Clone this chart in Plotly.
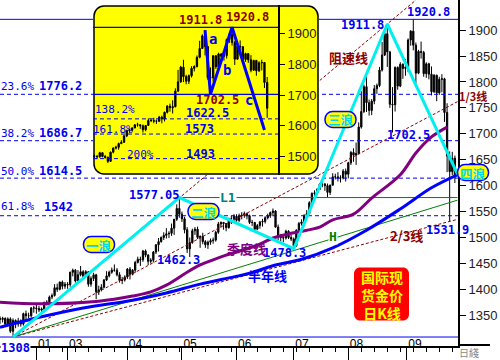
import numpy as np
import plotly.graph_objects as go

W, H = 500, 360

# ---------------- data (daily gold bars, index = trading day) ----------------
opens = [1344, 1342, 1344, 1333, 1343, 1319, 1340, 1333, 1339, 1333,
         1353, 1349, 1349, 1364, 1364, 1363, 1360, 1362, 1375, 1375,
         1385, 1388, 1403, 1400, 1414, 1406, 1410, 1409, 1433, 1437,
         1416, 1428, 1434, 1425, 1434, 1410, 1421, 1428, 1395, 1399,
         1404, 1418, 1426, 1433, 1437, 1437, 1428, 1417, 1418, 1424,
         1439, 1429, 1437, 1452, 1458, 1457, 1474, 1466, 1454, 1456,
         1472, 1486, 1492, 1500, 1504, 1507, 1508, 1518, 1535, 1556,
         1545, 1536, 1515, 1478, 1490, 1513, 1516, 1500, 1502, 1492,
         1486, 1491, 1494, 1495, 1510, 1526, 1529, 1527, 1519, 1536,
         1536, 1541, 1533, 1542, 1543, 1546, 1542, 1529, 1529, 1516,
         1523, 1530, 1531, 1538, 1542, 1548, 1551, 1520, 1502, 1500,
         1499, 1512, 1500, 1497, 1484, 1514, 1527, 1530, 1542, 1546,
         1567, 1585, 1586, 1593, 1603, 1603, 1600, 1587, 1601, 1617,
         1617, 1615, 1615, 1628, 1622, 1644, 1664, 1659, 1662, 1713,
         1743, 1791, 1760, 1745, 1763, 1787, 1793, 1823, 1852, 1893,
         1858, 1757, 1756, 1828, 1792, 1834, 1826, 1829, 1881, 1898,
         1871, 1817, 1859, 1857, 1816, 1835, 1815, 1781, 1813, 1779,
         1805, 1806, 1741, 1657, 1627, 1653]
highs = [1348, 1347, 1346, 1346, 1346, 1344, 1342, 1345, 1342, 1355,
         1359, 1355, 1366, 1368, 1371, 1368, 1365, 1376, 1379, 1388,
         1392, 1410, 1411, 1415, 1417, 1414, 1414, 1434, 1440, 1439,
         1437, 1445, 1437, 1437, 1435, 1425, 1432, 1430, 1407, 1410,
         1420, 1435, 1436, 1442, 1448, 1441, 1433, 1424, 1427, 1441,
         1443, 1439, 1455, 1463, 1463, 1476, 1477, 1468, 1460, 1474,
         1487, 1499, 1502, 1510, 1518, 1512, 1527, 1536, 1564, 1577.05,
         1550, 1540, 1520, 1500, 1517, 1520, 1521, 1504, 1509, 1495,
         1494, 1498, 1500, 1513, 1530, 1531, 1530, 1528, 1538, 1542,
         1545, 1545, 1546, 1549, 1550, 1548, 1544, 1534, 1530, 1526,
         1532, 1536, 1541, 1546, 1550, 1556, 1553, 1525, 1507, 1505,
         1515, 1514, 1505, 1500, 1516, 1530, 1535, 1545, 1553, 1570,
         1587, 1591, 1595, 1605, 1610, 1605, 1604, 1602, 1624, 1623,
         1626, 1620, 1632, 1633, 1646, 1667, 1672, 1683, 1722, 1782,
         1795, 1815, 1766, 1767, 1794, 1797, 1829, 1877, 1898, 1911.8,
         1860, 1790, 1830, 1830, 1838, 1836, 1844, 1884, 1900, 1920.8,
         1876, 1862, 1878, 1860, 1838, 1837, 1830, 1815, 1814, 1810,
         1815, 1808, 1759, 1666, 1665, 1658]
lows = [1333, 1336, 1330, 1329, 1316, 1308, 1325, 1328, 1328, 1330,
        1340, 1344, 1346, 1355, 1353, 1356, 1355, 1357, 1369, 1373,
        1381, 1386, 1395, 1398, 1400, 1401, 1401, 1405, 1425, 1413,
        1415, 1425, 1421, 1423, 1405, 1405, 1416, 1381, 1389, 1396,
        1402, 1416, 1423, 1430, 1434, 1425, 1413, 1410, 1415, 1420,
        1419, 1427, 1432, 1450, 1445, 1453, 1462, 1447, 1450, 1452,
        1468, 1473, 1490, 1495, 1498, 1499, 1503, 1505, 1532, 1538,
        1530, 1508, 1470, 1462.3, 1488, 1505, 1497, 1480, 1487, 1480,
        1478, 1486, 1488, 1492, 1507, 1519, 1515, 1512, 1517, 1526,
        1532, 1530, 1530, 1535, 1538, 1535, 1526, 1522, 1513, 1514,
        1517, 1521, 1527, 1535, 1538, 1541, 1519, 1495, 1492, 1491,
        1496, 1497, 1493, 1478.3, 1482, 1510, 1523, 1522, 1540, 1545,
        1563, 1576, 1582, 1592, 1597, 1590, 1578, 1582, 1600, 1612,
        1608, 1606, 1612, 1608, 1614, 1640, 1646, 1640, 1660, 1710,
        1740, 1742, 1735, 1736, 1757, 1777, 1790, 1820, 1850, 1829,
        1750, 1702.5, 1743, 1785, 1790, 1806, 1812, 1819, 1870, 1861,
        1798, 1815, 1845, 1810, 1808, 1805, 1774, 1779, 1763, 1775,
        1780, 1723, 1626, 1531.9, 1620, 1605]
closes = [1342, 1344, 1333, 1343, 1319, 1340, 1333, 1339, 1333, 1353,
          1349, 1349, 1364, 1364, 1363, 1360, 1362, 1375, 1375, 1385,
          1388, 1403, 1400, 1414, 1406, 1410, 1409, 1433, 1437, 1416,
          1428, 1434, 1425, 1434, 1410, 1421, 1428, 1395, 1399, 1404,
          1418, 1426, 1433, 1437, 1437, 1428, 1417, 1418, 1424, 1439,
          1429, 1437, 1452, 1458, 1457, 1474, 1466, 1454, 1456, 1472,
          1486, 1492, 1500, 1504, 1507, 1508, 1518, 1535, 1556, 1545,
          1536, 1515, 1478, 1490, 1513, 1516, 1500, 1502, 1492, 1486,
          1491, 1494, 1495, 1510, 1526, 1529, 1527, 1519, 1536, 1536,
          1541, 1533, 1542, 1543, 1546, 1542, 1529, 1529, 1516, 1523,
          1530, 1531, 1538, 1542, 1548, 1551, 1520, 1502, 1500, 1499,
          1512, 1500, 1497, 1484, 1514, 1527, 1530, 1542, 1546, 1567,
          1585, 1586, 1593, 1603, 1603, 1600, 1587, 1601, 1617, 1617,
          1615, 1615, 1628, 1622, 1644, 1664, 1659, 1662, 1713, 1743,
          1791, 1760, 1745, 1763, 1787, 1793, 1823, 1852, 1893, 1858,
          1757, 1756, 1828, 1792, 1834, 1826, 1829, 1881, 1898, 1871,
          1817, 1859, 1857, 1816, 1835, 1815, 1781, 1813, 1779, 1805,
          1806, 1741, 1657, 1627, 1653, 1617]
days = list(range(len(closes)))

month_ticks = [14, 26, 49, 70, 91, 113, 134, 156.5]
month_labels = ["01", "03", "04", "05", "06", "07", "08", "09"]
price_ticks = [1350, 1400, 1450, 1500, 1550, 1600, 1650, 1700, 1750, 1800, 1850, 1900]

# quarterly line (purple) and half-year line (blue)
ma_q_days = [0, 16, 38, 51, 58, 64, 72, 77, 82, 87, 99, 105, 113, 123, 128, 136, 143, 154, 160, 166, 172]
ma_q_vals = [1375, 1372, 1377, 1387, 1395, 1408, 1433, 1447, 1457, 1466, 1485, 1499, 1509, 1520, 1534, 1545, 1576, 1621, 1663, 1694, 1713]
ma_h_days = [0, 16, 32, 51, 64, 77, 90, 96, 106, 116, 128, 141, 154, 166, 176]
ma_h_vals = [1327, 1347, 1364, 1379, 1393, 1410, 1424, 1431, 1447, 1458, 1480, 1514, 1555, 1596, 1621]

# wave line (cyan)
wave_days = [5, 69, 113, 149, 176]
wave_vals = [1308, 1577.05, 1478.3, 1911.8, 1622]

# Fibonacci retracements
fib_levels = [1776.2, 1686.7, 1614.5, 1542]
fib_pcts = ["23.6%", "38.2%", "50.0%", "61.8%"]
range_high = 1920.8
range_low = 1308

# trend / speed lines from the 1308 low
speed_days, speed_vals = [5, 160], [1308, 1958]
third1_days, third1_vals = [5, 176], [1308, 1762]
third2_days, third2_vals = [5, 176], [1308, 1535]
h_days, h_vals = [5, 176], [1308, 1572]
l1_days, l1_val = [69, 176], 1577.05

# inset
inset_start, inset_end = 108, 173
inset_solid = [1920.8, 1702.5]
inset_fib = [1622.5, 1573, 1493]
inset_pcts = ["138.2%", "161.8%", "200%"]
abc_days = [149, 151, 159, 171]
abc_vals = [1911.8, 1702.5, 1920.8, 1586]
inset_ticks = [1500, 1600, 1700, 1800, 1900]

# ---------------- layout geometry ----------------
X_RANGE = [0, 176.2]
Y_RANGE = [1290.7, 1958.1]
PLOT_R, PLOT_B = 458, 346
IN_L, IN_T, IN_R, IN_B = 93, 5, 319, 175
IN_AXIS = 279
X2_RANGE = [107.5, 191.2]
Y2_RANGE = [1439.6, 1993.4]

MONO = "DejaVu Sans Mono"
CJK = "Noto Sans CJK SC"
BLUE = "#0000F0"
DRED = "#8B0000"

def px(x):
    return x / W

def py(y):
    return 1 - y / H

def in2data(xp, yp):
    x = X2_RANGE[0] + (xp - IN_L) / (IN_R - IN_L) * (X2_RANGE[1] - X2_RANGE[0])
    y = Y2_RANGE[1] - (yp - IN_T) / (IN_B - IN_T) * (Y2_RANGE[1] - Y2_RANGE[0])
    return x, y

inset_axis_x = in2data(IN_AXIS, 0)[0]

fig = go.Figure()

# ---- main chart ----
for lv in fib_levels:
    fig.add_trace(go.Scatter(x=X_RANGE, y=[lv, lv], mode="lines",
                             line=dict(color=BLUE, width=1, dash="4px,3px"), hoverinfo="skip"))
for lv in [range_high, range_low]:
    fig.add_trace(go.Scatter(x=X_RANGE, y=[lv, lv], mode="lines",
                             line=dict(color=BLUE, width=1), hoverinfo="skip"))

fig.add_trace(go.Candlestick(x=days, open=opens, high=highs, low=lows, close=closes,
                             increasing=dict(line=dict(color="black", width=1), fillcolor="black"),
                             decreasing=dict(line=dict(color="black", width=1), fillcolor="black"),
                             whiskerwidth=0, hoverinfo="skip"))

for dx, dv in [(speed_days, speed_vals), (third1_days, third1_vals), (third2_days, third2_vals)]:
    fig.add_trace(go.Scatter(x=dx, y=dv, mode="lines",
                             line=dict(color=DRED, width=1, dash="3px,2px"), hoverinfo="skip"))
fig.add_trace(go.Scatter(x=h_days, y=h_vals, mode="lines", line=dict(color="#008000", width=1)))
fig.add_trace(go.Scatter(x=l1_days, y=[l1_val, l1_val], mode="lines", line=dict(color="#008000", width=1)))
fig.add_trace(go.Scatter(x=ma_q_days, y=ma_q_vals, mode="lines", line=dict(color="#800080", width=3, shape="spline")))
fig.add_trace(go.Scatter(x=ma_h_days, y=ma_h_vals, mode="lines", line=dict(color="#0000FF", width=3, shape="spline")))
fig.add_trace(go.Scatter(x=wave_days, y=wave_vals, mode="lines", line=dict(color="#00F0F0", width=3)))

# ---- inset (drawn in its own subplot, above the main one) ----
for lv in inset_solid:
    fig.add_trace(go.Scatter(x=[X2_RANGE[0], inset_axis_x], y=[lv, lv], xaxis="x2", yaxis="y2",
                             mode="lines", line=dict(color=BLUE, width=1.2)))
for lv in inset_fib:
    fig.add_trace(go.Scatter(x=[X2_RANGE[0], inset_axis_x], y=[lv, lv], xaxis="x2", yaxis="y2",
                             mode="lines", line=dict(color=BLUE, width=1, dash="4px,3px")))
sl = slice(inset_start, inset_end)
fig.add_trace(go.Candlestick(x=days[sl], open=opens[sl], high=highs[sl], low=lows[sl], close=closes[sl],
                             xaxis="x2", yaxis="y2",
                             increasing=dict(line=dict(color="black", width=1), fillcolor="black"),
                             decreasing=dict(line=dict(color="black", width=1), fillcolor="black"),
                             whiskerwidth=0, hoverinfo="skip"))
fig.add_trace(go.Scatter(x=abc_days, y=abc_vals, xaxis="x2", yaxis="y2", mode="lines",
                         line=dict(color="#0000FF", width=3)))

# ---------------- annotations ----------------
ann = []

def label(text, x, y, color, size=12, bold=True, family=MONO, xanchor="center", bg=None):
    d = dict(text=(f"<b>{text}</b>" if bold else text), x=px(x), y=py(y), xref="paper", yref="paper",
             showarrow=False, xanchor=xanchor, yanchor="middle",
             font=dict(family=family, size=size, color=color), borderpad=0)
    if bg:
        d["bgcolor"] = bg
    ann.append(d)

fib_y = [86, 133, 171, 207]
fib_x = [38, 38, 38, 43]
for lv, pct, yy, xx in zip(fib_levels, fib_pcts, fib_y, fib_x):
    label(pct, 0, yy, BLUE, size=11, bold=False, xanchor="left")
    label(f"{lv:g}", xx, yy, BLUE, xanchor="left")

label("1577.05", 154, 195, BLUE)
label("L1", 228, 197, "#008080", size=13, bg="white")
label("1462.3", 178, 260, BLUE)
label("1478.3", 284, 253, BLUE)
label("1911.8", 362, 25, BLUE)
label("1920.8", 428, 12, BLUE)
label("1702.5", 408, 135, BLUE)
label("1531.9", 447, 230, BLUE)
label("1308", 15, 348, BLUE, bg="white")
label("季度线", 246, 248, "#800080", size=13, family=CJK)
label("半年线", 267, 275, "#0000FF", size=13, family=CJK)
label("阻速线", 348, 58, DRED, size=13, family=CJK)
label("1/3线", 473, 96, DRED, size=11, family=CJK)
label("2/3线", 406, 235, DRED, size=13, family=CJK)
label("H", 333, 236, "#008000", size=13, bg="white")
label("日綫", 469, 352, "#888888", size=10, bold=False, family=CJK)

# inset labels
label("1911.8", 200, 20, DRED)
label("1920.8", 247, 17, DRED)
label("1702.5", 217, 100, DRED)
label("a", 213, 39, BLUE, size=14)
label("b", 227, 70, BLUE, size=14)
label("c", 249, 100, BLUE, size=14)
for pct, lv, (xp, yp), (xn, yn) in zip(inset_pcts, inset_fib,
                                       [(115, 109), (113, 129), (140, 154)],
                                       [(207, 113), (199, 129), (200, 154)]):
    label(pct, xp, yp, BLUE, size=11, bold=False)
    label(f"{lv:g}", xn, yn, BLUE)

# ---------------- shapes ----------------
def rrect_path(w, h, rr):
    kk = 0.5523 * rr
    x0, x1, y0, y1 = -w / 2, w / 2, -h / 2, h / 2
    return (f"M{x0+rr},{y0} L{x1-rr},{y0} C{x1-rr+kk},{y0} {x1},{y0+rr-kk} {x1},{y0+rr} "
            f"L{x1},{y1-rr} C{x1},{y1-rr+kk} {x1-rr+kk},{y1} {x1-rr},{y1} "
            f"L{x0+rr},{y1} C{x0+rr-kk},{y1} {x0},{y1-rr+kk} {x0},{y1-rr} "
            f"L{x0},{y0+rr} C{x0},{y0+rr-kk} {x0+rr-kk},{y0} {x0+rr},{y0} Z")

shapes = []
# yellow rounded panel of the inset: lives in the inset subplot, under its traces
icx, icy = in2data((IN_L + IN_R) / 2, (IN_T + IN_B) / 2)
shapes.append(dict(type="path", xref="x2", yref="y2", xsizemode="pixel", ysizemode="pixel",
                   xanchor=icx, yanchor=icy, path=rrect_path(IN_R - IN_L - 2, IN_B - IN_T - 2, 10),
                   fillcolor="#FFFF00", line=dict(color="black", width=1.5), layer="below"))

wave_names = ["一浪", "二浪", "三浪", "四浪"]
wave_tag_pos = [(99, 244.5), (203.5, 211.5), (340.5, 119.5), (473, 172.5)]
for name, (cx, cy) in zip(wave_names, wave_tag_pos):
    shapes.append(dict(type="path", xref="paper", yref="paper", xsizemode="pixel", ysizemode="pixel",
                       xanchor=px(cx), yanchor=py(cy), path=rrect_path(31, 16, 7.5),
                       fillcolor="#FFFF00", line=dict(color="#0000FF", width=1.5), layer="above"))
    label(name, cx, cy + 0.5, "#00D8F0", size=12.5, family=CJK)

shapes.append(dict(type="path", xref="paper", yref="paper", xsizemode="pixel", ysizemode="pixel",
                   xanchor=px(381.5), yanchor=py(294), path=rrect_path(55, 53, 6),
                   fillcolor="#FF0000", line=dict(width=0), layer="above"))
label("国际现<br>货金价<br>日K线", 382, 294.5, "#FFFF00", size=14, family=CJK)

shapes.append(dict(type="line", xref="paper", yref="paper", x0=px(PLOT_R), x1=px(490),
                   y0=py(PLOT_B - 1), y1=py(PLOT_B - 1), line=dict(color="black", width=2)))

fig.update_layout(
    width=W, height=H, margin=dict(l=0, r=0, t=0, b=0),
    paper_bgcolor="white", plot_bgcolor="white", showlegend=False,
    annotations=ann, shapes=shapes,
    xaxis=dict(domain=[0, PLOT_R / W], range=X_RANGE, showgrid=False, zeroline=False,
               showline=True, linecolor="black", linewidth=2,
               ticks="outside", ticklen=14, tickwidth=1, tickcolor="black",
               tickmode="array", tickvals=month_ticks, ticktext=month_labels,
               ticklabelposition="outside right", ticklabelstandoff=-14,
               tickfont=dict(family="Liberation Sans", size=12, color="black"),
               minor=dict(ticks="outside", ticklen=4, tickcolor="black", tickmode="linear", tick0=4, dtick=5),
               rangeslider=dict(visible=False), fixedrange=True),
    yaxis=dict(domain=[1 - PLOT_B / H, 1], range=Y_RANGE, side="right", showgrid=False, zeroline=False,
               showline=True, linecolor="black", linewidth=2, ticks="outside", ticklen=6,
               tickcolor="black", tickmode="array", tickvals=price_ticks,
               tickfont=dict(family="Liberation Sans", size=13, color="#222"), fixedrange=True),
    xaxis2=dict(domain=[IN_L / W, IN_R / W], range=X2_RANGE, visible=False, anchor="y2",
                rangeslider=dict(visible=False), fixedrange=True),
    yaxis2=dict(domain=[1 - IN_B / H, 1 - IN_T / H], range=Y2_RANGE, anchor="free", position=IN_AXIS / W,
                side="right", showgrid=False, zeroline=False, showline=True, linecolor="black", linewidth=2,
                ticks="outside", ticklen=5, tickcolor="black", tickmode="array", tickvals=inset_ticks,
                tickfont=dict(family="Liberation Sans", size=13, color="#222"), fixedrange=True),
)

fig.write_html("out.html")
